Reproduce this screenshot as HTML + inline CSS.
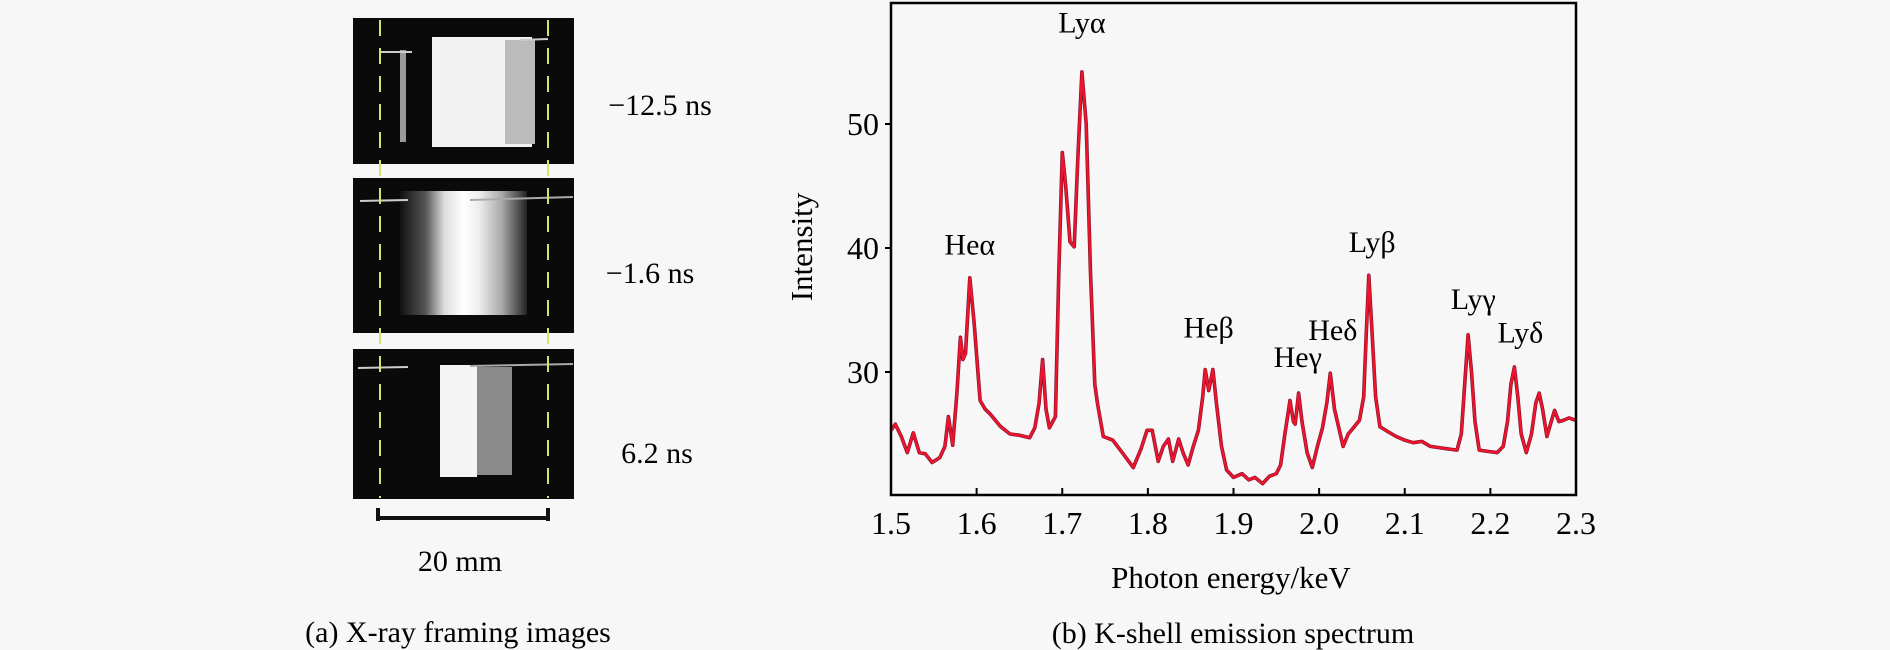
<!DOCTYPE html>
<html><head><meta charset="utf-8"><style>
body{margin:0;background:#f7f7f7;}
svg{display:block;font-family:"Liberation Serif",serif;}
</style></head><body>
<svg width="1890" height="650" viewBox="0 0 1890 650" xmlns="http://www.w3.org/2000/svg">
<defs>
<linearGradient id="g2" x1="0" x2="1" y1="0" y2="0">
<stop offset="0" stop-color="#111"/><stop offset="0.2" stop-color="#555"/><stop offset="0.35" stop-color="#ddd"/><stop offset="0.5" stop-color="#fff"/><stop offset="0.62" stop-color="#eee"/><stop offset="0.8" stop-color="#aaa"/><stop offset="1" stop-color="#222"/></linearGradient>
</defs>
<g id="left-panel">
  <g>
    <rect x="353" y="18" width="221" height="146" fill="#0a0a0a"/>
    <rect x="432" y="37" width="100" height="110" fill="#f2f2f2"/>
    <rect x="505" y="40" width="30" height="104" fill="#bbb"/>
    <rect x="400" y="50" width="6" height="92" fill="#999"/>
    <line x1="380" y1="52" x2="412" y2="52" stroke="#ccc" stroke-width="2"/>
    <line x1="520" y1="40" x2="548" y2="39" stroke="#ccc" stroke-width="2"/>
  </g>
  <g>
    <rect x="353" y="178" width="221" height="155" fill="#0a0a0a"/>
    <rect x="400" y="191" width="127" height="124" fill="url(#g2)"/>
    <line x1="360" y1="201" x2="408" y2="200" stroke="#ccc" stroke-width="2"/>
    <line x1="470" y1="200" x2="573" y2="197" stroke="#aaa" stroke-width="2"/>
  </g>
  <g>
    <rect x="353" y="349" width="221" height="150" fill="#0a0a0a"/>
    <rect x="440" y="365" width="37" height="112" fill="#f4f4f4"/>
    <rect x="477" y="367" width="35" height="108" fill="#8a8a8a"/>
    <line x1="358" y1="368" x2="408" y2="367" stroke="#ccc" stroke-width="2"/>
    <line x1="470" y1="366" x2="573" y2="364" stroke="#aaa" stroke-width="2"/>
  </g>
  <line x1="380" y1="20" x2="380" y2="498" stroke="#d8e070" stroke-width="2" stroke-dasharray="16,12"/>
  <line x1="548" y1="20" x2="548" y2="498" stroke="#d8e070" stroke-width="2" stroke-dasharray="16,12"/>
  <g stroke="#111" stroke-width="4">
    <line x1="377" y1="518" x2="549" y2="518"/>
    <line x1="378" y1="508" x2="378" y2="521"/>
    <line x1="548" y1="508" x2="548" y2="521"/>
  </g>
  <text x="460" y="571" font-size="30" text-anchor="middle">20 mm</text>
  <text x="660" y="115" font-size="30" text-anchor="middle">−12.5 ns</text>
  <text x="650" y="283" font-size="30" text-anchor="middle">−1.6 ns</text>
  <text x="657" y="463" font-size="30" text-anchor="middle">6.2 ns</text>
  <text x="458" y="642" font-size="30" text-anchor="middle">(a) X-ray framing images</text>
</g>
<g id="chart"></g>
</svg>
<script>
const energies=[1.500,1.505,1.512,1.519,1.526,1.533,1.540,1.548,1.557,1.563,1.567,1.572,1.577,1.581,1.584,1.587,1.592,1.597,1.604,1.610,1.616,1.628,1.639,1.650,1.662,1.668,1.673,1.677,1.681,1.685,1.692,1.696,1.700,1.704,1.709,1.714,1.718,1.723,1.728,1.733,1.738,1.741,1.748,1.759,1.770,1.783,1.792,1.799,1.805,1.812,1.818,1.824,1.829,1.836,1.841,1.847,1.853,1.859,1.864,1.867,1.871,1.876,1.880,1.886,1.892,1.900,1.910,1.918,1.925,1.934,1.942,1.950,1.955,1.960,1.966,1.970,1.972,1.976,1.980,1.986,1.992,1.998,2.004,2.009,2.013,2.018,2.023,2.028,2.034,2.040,2.047,2.052,2.055,2.058,2.062,2.066,2.071,2.080,2.090,2.100,2.110,2.120,2.130,2.140,2.150,2.161,2.166,2.170,2.174,2.178,2.182,2.187,2.197,2.208,2.215,2.220,2.224,2.228,2.232,2.236,2.242,2.248,2.253,2.257,2.261,2.266,2.271,2.275,2.280,2.285,2.292,2.300];
const intensity=[25.3,25.8,24.8,23.5,25.1,23.5,23.4,22.7,23.1,24.0,26.4,24.1,28.3,32.8,31.0,31.5,37.6,34.0,27.7,27.0,26.6,25.6,25.0,24.9,24.7,25.5,27.5,31.0,27.0,25.5,26.4,38.0,47.7,45.0,40.5,40.1,47.0,54.2,50.0,38.0,29.0,27.5,24.8,24.5,23.5,22.3,23.8,25.3,25.3,22.8,24.0,24.6,22.8,24.6,23.5,22.5,24.0,25.3,28.0,30.2,28.5,30.2,27.5,24.0,22.1,21.5,21.8,21.3,21.5,21.0,21.6,21.8,22.5,25.0,27.7,26.0,25.8,28.3,26.0,23.5,22.3,24.0,25.5,27.5,29.9,27.0,25.5,24.0,25.0,25.5,26.1,28.0,33.0,37.8,33.0,28.0,25.6,25.2,24.8,24.5,24.3,24.4,24.0,23.9,23.8,23.7,25.0,29.0,33.0,30.0,26.0,23.7,23.6,23.5,24.0,26.0,29.0,30.4,28.0,25.0,23.5,25.0,27.5,28.3,27.0,24.8,26.0,26.9,26.0,26.1,26.3,26.1];
const xTicks=[1.5,1.6,1.7,1.8,1.9,2.0,2.1,2.2,2.3];
const xTickLabels=["1.5","1.6","1.7","1.8","1.9","2.0","2.1","2.2","2.3"];
const yTicks=[30,40,50];
const peakNames=["Heα","Lyα","Heβ","Heγ","Heδ","Lyβ","Lyγ","Lyδ"];
const peakEnergies=[1.592,1.723,1.871,1.975,2.016,2.062,2.180,2.235];
const peakLabelValues=[40.3,58.2,33.6,31.2,33.4,40.5,35.9,33.2];

const NS='http://www.w3.org/2000/svg';
const L=891,R=1576,T=3,B=495;
const xs=e=>L+(e-1.5)/(0.8)*(R-L);
const ys=v=>124+(50-v)*12.4;
const g=document.getElementById('chart');
function mk(tag,at,parent){const el=document.createElementNS(NS,tag);for(const k in at)el.setAttribute(k,at[k]);(parent||g).appendChild(el);return el;}

let d='';
for(let i=0;i<energies.length;i++){d+=(i?'L':'M')+xs(energies[i]).toFixed(1)+','+ys(intensity[i]).toFixed(1);}
const shadow=mk('path',{d:d,fill:'none',stroke:'#7a1030','stroke-width':3.6,'stroke-linejoin':'round'});


const line=mk('path',{d:d,fill:'none',stroke:'#f0142a','stroke-width':2.4,'stroke-linejoin':'round'});



const frame=mk('rect',{x:L,y:T,width:R-L,height:B-T,fill:'none',stroke:'#000','stroke-width':2.5});



xTicks.forEach((t,i)=>{
  const tk=mk('line',{x1:xs(t),x2:xs(t),y1:B,y2:B-7,stroke:'#000','stroke-width':2});
  
  
  const tx=mk('text',{x:xs(t),y:B+39,'font-size':32,'text-anchor':'middle'});
  tx.textContent=xTickLabels[i];
  
  
});
yTicks.forEach(t=>{
  const tk=mk('line',{x1:L,x2:L-6,y1:ys(t),y2:ys(t),stroke:'#000','stroke-width':2});
  
  
  const tx=mk('text',{x:L-12,y:ys(t)+11,'font-size':32,'text-anchor':'end'});
  tx.textContent=String(t);
  
  
});
peakNames.forEach((n,i)=>{
  const tx=mk('text',{x:xs(peakEnergies[i]),y:ys(peakLabelValues[i])+10,'font-size':30,'text-anchor':'middle'});
  tx.textContent=n;
  
  
});
const xl=mk('text',{x:1231,y:588,'font-size':31,'text-anchor':'middle'});
xl.textContent='Photon energy/keV';


const yl=mk('text',{x:0,y:0,'font-size':31,'text-anchor':'middle',transform:'translate(812,247) rotate(-90)'});
yl.textContent='Intensity';


const cap=mk('text',{x:1233,y:643,'font-size':30,'text-anchor':'middle'});
cap.textContent='(b) K-shell emission spectrum';


</script>
</body></html>
